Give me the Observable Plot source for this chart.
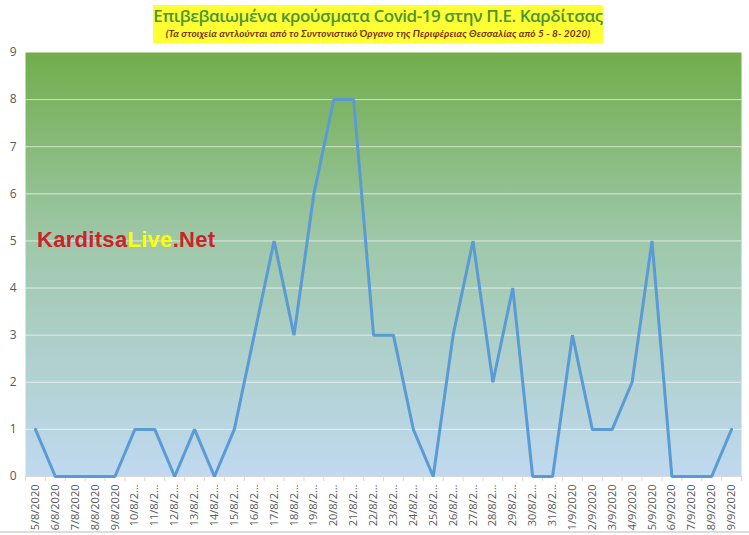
<!DOCTYPE html>
<html><head><meta charset="utf-8">
<script src="https://cdn.jsdelivr.net/npm/d3@7"></script>
<script src="https://cdn.jsdelivr.net/npm/@observablehq/plot@0.6"></script>
<style>
body{margin:0;background:#fff;}
#wrap{position:relative;width:749px;height:535px;overflow:hidden;background:#fff;}
#tbox{position:absolute;left:153px;top:5px;width:450px;height:38px;background:#ffff33;text-align:center;}
#t1{font-family:"Open Sans",sans-serif;font-weight:600;font-size:17px;line-height:20px;color:#4a9636;margin-top:1px;letter-spacing:-0.45px;}
#t2{font-family:Lato,sans-serif;font-weight:bold;font-style:italic;font-size:10px;line-height:14px;color:#7a2e12;letter-spacing:0.1px;}
#wm{position:absolute;left:37px;top:227px;font-family:"Liberation Sans",Arial,sans-serif;font-weight:bold;font-size:22px;color:#cc2229;letter-spacing:0.3px;}
#wm span{color:#ffff00;}
#bl{position:absolute;left:0;top:531px;width:749px;height:2px;background:#dcdcdc;}
#chart{position:absolute;left:0;top:0;}
</style></head>
<body><div id="wrap"><div id="chart"></div>
<div id="tbox"><div id="t1">Επιβεβαιωμένα κρούσματα Covid-19 στην Π.Ε. Καρδίτσας</div>
<div id="t2">(Τα στοιχεία αντλούνται από το Συντονιστικό Όργανο της Περιφέρειας Θεσσαλίας από 5 - 8- 2020)</div></div>
<div id="wm">Karditsa<span>Live</span>.Net</div>
<div id="bl"></div>
</div>
<script>
const dates = ["5/8/2020","6/8/2020","7/8/2020","8/8/2020","9/8/2020","10/8/2020","11/8/2020","12/8/2020","13/8/2020","14/8/2020","15/8/2020","16/8/2020","17/8/2020","18/8/2020","19/8/2020","20/8/2020","21/8/2020","22/8/2020","23/8/2020","24/8/2020","25/8/2020","26/8/2020","27/8/2020","28/8/2020","29/8/2020","30/8/2020","31/8/2020","1/9/2020","2/9/2020","3/9/2020","4/9/2020","5/9/2020","6/9/2020","7/9/2020","8/9/2020","9/9/2020"];
const tickLabels = ["5/8/2020","6/8/2020","7/8/2020","8/8/2020","9/8/2020","10/8/2…","11/8/2…","12/8/2…","13/8/2…","14/8/2…","15/8/2…","16/8/2…","17/8/2…","18/8/2…","19/8/2…","20/8/2…","21/8/2…","22/8/2…","23/8/2…","24/8/2…","25/8/2…","26/8/2…","27/8/2…","28/8/2…","29/8/2…","30/8/2…","31/8/2…","1/9/2020","2/9/2020","3/9/2020","4/9/2020","5/9/2020","6/9/2020","7/9/2020","8/9/2020","9/9/2020"];
const cases = [1,0,0,0,0,1,1,0,1,0,1,3,5,3,6,8,8,3,3,1,0,3,5,2,4,0,0,3,1,1,2,5,0,0,0,1];
const yTicks = [0,1,2,3,4,5,6,7,8,9];

const data = dates.map((d, i) => ({i, date: d, cases: cases[i]}));
const idx = d3.range(dates.length);
const bounds = d3.range(dates.length + 1).map(i => i - 0.5);

const chart = Plot.plot({
  width: 749, height: 535,
  marginLeft: 25, marginRight: 8, marginTop: 52, marginBottom: 59,
  style: {background: "transparent", fontFamily: "'Open Sans', sans-serif"},
  x: {domain: [-0.5, dates.length - 0.5], axis: null},
  y: {domain: [0, 9], axis: null},
  marks: [
    Plot.frame({fill: "url(#bg)", stroke: null}),
    Plot.gridY(yTicks.slice(1, -1), {stroke: "#ffffff", strokeOpacity: 0.65, strokeWidth: 1}),
    Plot.ruleY([0], {stroke: "#d9d9d9"}),
    Plot.axisY(yTicks, {tickSize: 0, tickPadding: 9, fontSize: 12, fill: "#595959", label: null}),
    Plot.axisX(bounds, {tickSize: 5, tickFormat: () => "", stroke: "#d9d9d9", label: null}),
    Plot.axisX(idx, {tickSize: 0, tickPadding: 8, tickRotate: -90, tickFormat: i => tickLabels[i], fontSize: 11, fill: "#595959", label: null}),
    Plot.line(data, {x: "i", y: "cases", stroke: "#5b9bd5", strokeWidth: 3, strokeLinejoin: "miter"})
  ]
});
d3.select(chart).insert("defs", ":first-child").html(
  '<linearGradient id="bg" x1="0" y1="0" x2="0" y2="1">' +
  '<stop offset="0" stop-color="#71ad4c"/>' +
  '<stop offset="0.45" stop-color="#9fc8aa"/>' +
  '<stop offset="1" stop-color="#c0d9f0"/></linearGradient>');
document.getElementById("chart").appendChild(chart);
</script>
</body></html>
